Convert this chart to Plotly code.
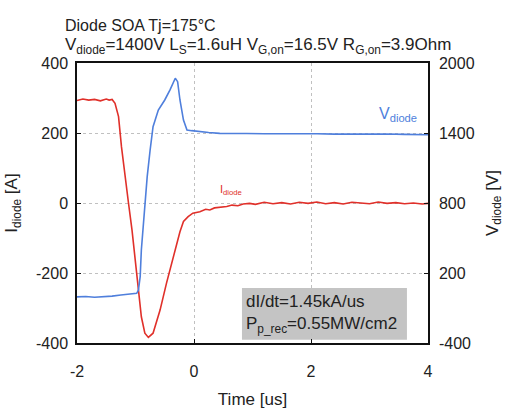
import plotly.graph_objects as go

# Diode current (left axis, A)
t_i = [-2.0, -1.9, -1.8, -1.7, -1.6, -1.5, -1.45, -1.4, -1.35, -1.29, -1.24, -1.18, -1.12, -1.06,
       -1.01, -0.95, -0.90, -0.84, -0.78, -0.70, -0.58, -0.47, -0.35, -0.24, -0.18, -0.10, -0.02,
       0.1, 0.2, 0.27, 0.35, 0.45, 0.56, 0.65, 0.75, 0.84, 0.95, 1.05, 1.2, 1.35, 1.5, 1.65, 1.8,
       1.95, 2.1, 2.25, 2.4, 2.55, 2.7, 2.85, 3.0, 3.15, 3.3, 3.45, 3.6, 3.75, 3.9, 4.0]
i_diode = [293, 297, 294, 296, 292, 297, 294, 296, 285, 247, 161, 75, 0, -77,
           -153, -249, -325, -372, -384, -372, -306, -229, -153, -82, -53, -39, -29,
           -25, -18, -20, -14, -12, -10, -6, -8, -3, -1, -4, 2, -2, 1, -3, 2,
           -1, 3, -2, 1, -3, 2, 0, -2, 3, -1, 1, -2, 0, -3, -1]

# Diode voltage (right axis, V)
t_v = [-2.0, -1.85, -1.7, -1.55, -1.4, -1.25, -1.1, -0.98, -0.95, -0.92, -0.90, -0.87, -0.84,
       -0.80, -0.75, -0.70, -0.61, -0.50, -0.41, -0.32, -0.28, -0.24, -0.18, -0.12, -0.04,
       0.10, 0.25, 0.44, 0.65, 0.90, 1.2, 1.5, 1.8, 2.1, 2.4, 2.7, 3.0, 3.3, 3.6, 3.9, 4.0]
v_diode = [-5, -2, -8, -4, 2, 12, 18, 26, 54, 169, 397, 597, 797,
           1026, 1254, 1454, 1597, 1683, 1769, 1869, 1840, 1683, 1511, 1426, 1420,
           1411, 1404, 1397, 1394, 1396, 1393, 1395, 1392, 1394, 1390, 1392, 1389, 1391, 1388, 1387, 1385]

# Tick labels
x_ticks = [-2, 0, 2, 4]
x_labels = ["-2", "0", "2", "4"]
yl_ticks = [-400, -200, 0, 200, 400]
yl_labels = ["-400", "-200", "0", "200", "400"]
yr_ticks = [-400, 200, 800, 1400, 2000]
yr_labels = ["-400", "200", "800", "1400", "2000"]

red = "#e0302a"
blue = "#4f7fdc"
font = "Liberation Sans, Arial, sans-serif"
txt = "#222"

fig = go.Figure()
fig.add_trace(go.Scatter(x=t_v, y=v_diode, mode="lines", line=dict(color=blue, width=1.6),
                         yaxis="y2", showlegend=False))
fig.add_trace(go.Scatter(x=t_i, y=i_diode, mode="lines", line=dict(color=red, width=1.6),
                         showlegend=False))

# annotation box
fig.add_shape(type="rect", xref="x", yref="y", x0=0.82, x1=3.64, y0=-391, y1=-243,
              fillcolor="#c4c4c4", line=dict(width=0), layer="below")

W, H = 509, 416
L, R, T, B = 77, 81, 63, 73
pw, ph = W - L - R, H - T - B

def px(x):
    return (x - L) / pw

def py(y):
    return (H - B - y) / ph

ann = [
    dict(text="Diode SOA Tj=175°C", x=px(63), y=py(25), size=16),
    dict(text="V<sub>diode</sub>=1400V L<sub>S</sub>=1.6uH V<sub>G,on</sub>=16.5V R<sub>G,on</sub>=3.9Ohm",
         x=px(63), y=py(46), size=17),
]
for a in ann:
    fig.add_annotation(text=a["text"], x=a["x"], y=a["y"], xref="paper", yref="paper",
                       xanchor="left", yanchor="middle", showarrow=False,
                       font=dict(size=a["size"], color=txt, family=font))

fig.add_annotation(text="dI/dt=1.45kA/us<br>P<sub>p_rec</sub>=0.55MW/cm2", x=0.86, y=-317,
                   xref="x", yref="y", xanchor="left", yanchor="middle", align="left",
                   showarrow=False, font=dict(size=17, color=txt, family=font))
fig.add_annotation(text="I<sub>diode</sub>", x=0.41, y=37, xref="x", yref="y", xanchor="left",
                   yanchor="middle", showarrow=False, font=dict(size=11, color=red, family=font))
fig.add_annotation(text="V<sub>diode</sub>", x=3.13, y=1560, xref="x", yref="y2", xanchor="left",
                   yanchor="middle", showarrow=False, font=dict(size=16, color=blue, family=font))

axis_common = dict(showline=True, linecolor="#111", linewidth=1.5, ticks="inside", ticklen=4,
                   tickcolor="#111", tickfont=dict(size=16, color=txt, family=font),
                   zeroline=False, automargin=False)
grid = dict(showgrid=True, gridcolor="#c0c0c0", griddash="3px,3px", gridwidth=1)

fig.update_layout(
    width=W, height=H,
    margin=dict(l=L, r=R, t=T, b=B),
    paper_bgcolor="white", plot_bgcolor="white",
    font=dict(family=font),
    xaxis=dict(range=[-2, 4], tickvals=x_ticks, ticktext=x_labels, mirror=True,
               ticklabelstandoff=13,
               title=dict(text="Time [us]", font=dict(size=17, color=txt, family=font), standoff=14),
               **grid, **axis_common),
    yaxis=dict(range=[-400, 400], tickvals=yl_ticks, ticktext=yl_labels,
               ticklabelstandoff=4,
               title=dict(text="I<sub>diode</sub> [A]", font=dict(size=17, color=txt, family=font), standoff=14),
               **grid, **axis_common),
    yaxis2=dict(range=[-400, 2000], tickvals=yr_ticks, ticktext=yr_labels, overlaying="y",
                side="right", showgrid=False, ticklabelstandoff=6,
                title=dict(text="V<sub>diode</sub> [V]", font=dict(size=17, color=txt, family=font), standoff=12),
                **axis_common),
)

fig.write_html("out.html", config={"displayModeBar": False},
               post_script="document.body.style.margin='0';")
